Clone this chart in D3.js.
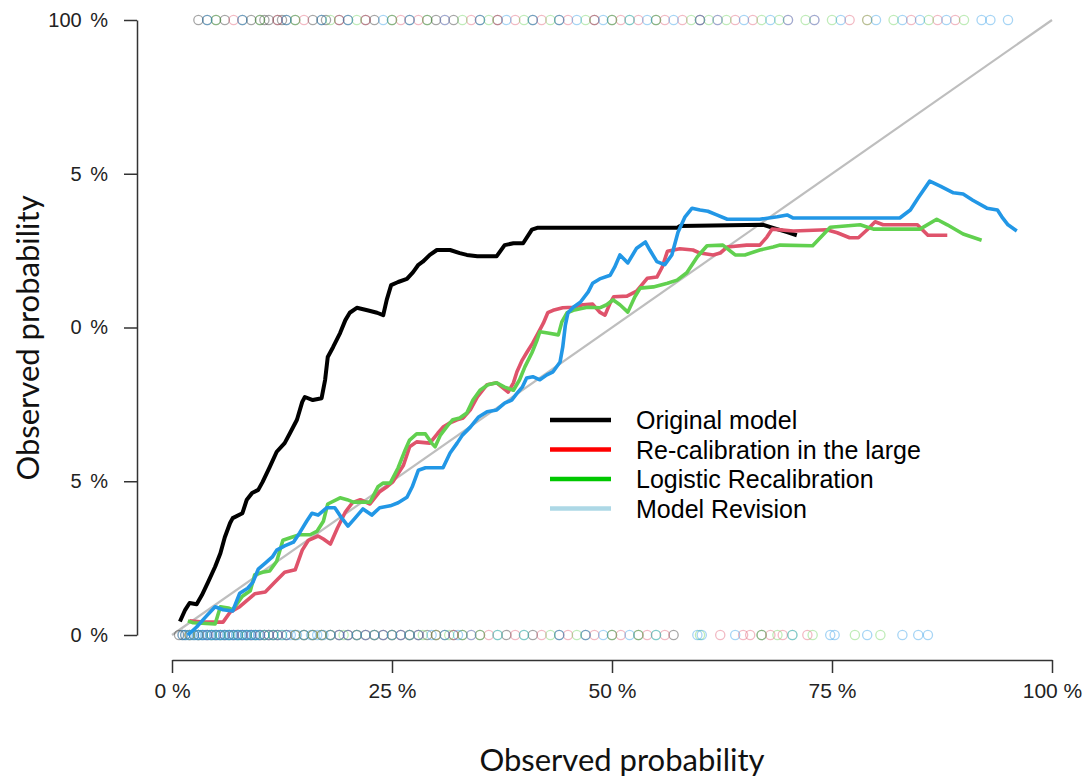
<!DOCTYPE html>
<html>
<head>
<meta charset="utf-8">
<script src="https://cdn.jsdelivr.net/npm/d3@7"></script>
<style>
  body { margin: 0; background: #fff; }
  text { font-family: "Liberation Sans", Arial, sans-serif; }
  .title { font-family: Lato, "Open Sans", sans-serif; }
</style>
</head>
<body>
<div id="chart"></div>
<script>
// calibration curves [predicted, observed]
const originalModel = [
  [0.009,0.022],[0.015,0.041],[0.020,0.052],[0.028,0.050],[0.034,0.065],[0.041,0.086],[0.049,0.111],
  [0.055,0.133],[0.060,0.159],[0.066,0.182],[0.069,0.190],[0.080,0.198],[0.085,0.220],[0.091,0.231],
  [0.098,0.236],[0.103,0.249],[0.111,0.273],[0.119,0.298],[0.128,0.312],[0.134,0.328],[0.142,0.350],
  [0.148,0.379],[0.151,0.387],[0.160,0.382],[0.170,0.385],[0.174,0.415],[0.177,0.452],[0.183,0.468],
  [0.191,0.491],[0.197,0.512],[0.202,0.524],[0.210,0.532],[0.222,0.528],[0.233,0.524],[0.240,0.520],
  [0.244,0.545],[0.249,0.569],[0.257,0.574],[0.267,0.579],[0.274,0.590],[0.280,0.602],[0.285,0.607],
  [0.293,0.618],[0.301,0.626],[0.316,0.626],[0.327,0.621],[0.335,0.618],[0.347,0.616],[0.369,0.616],
  [0.378,0.634],[0.388,0.637],[0.399,0.637],[0.409,0.659],[0.415,0.662],[0.574,0.662],[0.577,0.665],
  [0.672,0.667],[0.683,0.662],[0.699,0.655],[0.710,0.650]
]
const recalLarge = [
  [0.020,0.023],[0.035,0.021],[0.058,0.021],[0.066,0.037],[0.077,0.046],[0.086,0.057],[0.094,0.067],
  [0.106,0.070],[0.117,0.086],[0.128,0.102],[0.140,0.106],[0.148,0.138],[0.155,0.154],[0.166,0.161],
  [0.172,0.156],[0.180,0.148],[0.188,0.174],[0.197,0.200],[0.205,0.215],[0.214,0.220],[0.225,0.213],
  [0.236,0.233],[0.245,0.242],[0.251,0.249],[0.263,0.276],[0.270,0.306],[0.278,0.314],[0.293,0.312],
  [0.302,0.328],[0.308,0.338],[0.316,0.345],[0.324,0.350],[0.331,0.353],[0.339,0.366],[0.347,0.387],
  [0.358,0.407],[0.369,0.410],[0.376,0.402],[0.382,0.395],[0.388,0.410],[0.392,0.428],[0.398,0.447],
  [0.403,0.459],[0.410,0.475],[0.416,0.491],[0.422,0.507],[0.427,0.524],[0.433,0.528],[0.444,0.532],
  [0.456,0.533],[0.467,0.537],[0.478,0.538],[0.486,0.525],[0.492,0.520],[0.498,0.540],[0.502,0.550],
  [0.517,0.551],[0.528,0.559],[0.540,0.580],[0.551,0.582],[0.557,0.598],[0.563,0.624],[0.577,0.628],
  [0.592,0.626],[0.600,0.621],[0.615,0.618],[0.623,0.621],[0.631,0.631],[0.653,0.634],[0.668,0.634],
  [0.676,0.647],[0.682,0.660],[0.706,0.657],[0.744,0.659],[0.756,0.654],[0.770,0.646],[0.780,0.646],
  [0.790,0.659],[0.799,0.672],[0.808,0.667],[0.847,0.667],[0.859,0.650],[0.881,0.650]
]
const logisticRecal = [
  [0.018,0.023],[0.024,0.020],[0.049,0.018],[0.055,0.046],[0.064,0.044],[0.069,0.041],[0.080,0.063],
  [0.089,0.072],[0.094,0.098],[0.103,0.102],[0.111,0.104],[0.119,0.120],[0.126,0.154],[0.136,0.159],
  [0.145,0.163],[0.157,0.163],[0.165,0.169],[0.172,0.185],[0.177,0.213],[0.191,0.223],[0.199,0.220],
  [0.206,0.216],[0.225,0.216],[0.234,0.241],[0.240,0.247],[0.248,0.247],[0.257,0.272],[0.265,0.301],
  [0.270,0.317],[0.278,0.327],[0.288,0.327],[0.295,0.312],[0.299,0.306],[0.305,0.325],[0.313,0.340],
  [0.319,0.350],[0.327,0.353],[0.335,0.361],[0.342,0.382],[0.350,0.398],[0.359,0.407],[0.369,0.410],
  [0.378,0.403],[0.388,0.398],[0.395,0.415],[0.401,0.436],[0.409,0.459],[0.415,0.480],[0.418,0.493],
  [0.427,0.491],[0.439,0.488],[0.443,0.509],[0.449,0.524],[0.456,0.528],[0.472,0.533],[0.486,0.532],
  [0.494,0.537],[0.501,0.545],[0.509,0.537],[0.518,0.525],[0.526,0.550],[0.532,0.564],[0.547,0.566],
  [0.563,0.572],[0.574,0.577],[0.585,0.589],[0.597,0.615],[0.608,0.633],[0.626,0.634],[0.640,0.618],
  [0.651,0.618],[0.668,0.626],[0.683,0.631],[0.691,0.634],[0.728,0.633],[0.748,0.663],[0.782,0.667],
  [0.797,0.660],[0.850,0.660],[0.869,0.676],[0.881,0.667],[0.899,0.652],[0.920,0.642]
]
const modelRevision = [
  [0.018,0.000],[0.028,0.013],[0.038,0.029],[0.049,0.046],[0.058,0.041],[0.069,0.039],[0.077,0.068],
  [0.086,0.076],[0.092,0.086],[0.098,0.107],[0.106,0.117],[0.114,0.127],[0.119,0.138],[0.128,0.145],
  [0.138,0.151],[0.145,0.166],[0.153,0.185],[0.159,0.198],[0.166,0.195],[0.176,0.207],[0.185,0.207],
  [0.193,0.190],[0.200,0.177],[0.208,0.190],[0.217,0.205],[0.227,0.195],[0.236,0.207],[0.248,0.210],
  [0.257,0.215],[0.267,0.224],[0.273,0.241],[0.280,0.268],[0.288,0.272],[0.308,0.272],[0.316,0.296],
  [0.324,0.312],[0.330,0.325],[0.339,0.338],[0.348,0.354],[0.358,0.363],[0.369,0.366],[0.378,0.377],
  [0.386,0.382],[0.392,0.393],[0.398,0.403],[0.403,0.418],[0.410,0.420],[0.418,0.415],[0.426,0.423],
  [0.433,0.428],[0.441,0.444],[0.444,0.468],[0.447,0.504],[0.450,0.524],[0.456,0.533],[0.464,0.541],
  [0.473,0.558],[0.478,0.572],[0.486,0.579],[0.498,0.585],[0.503,0.598],[0.509,0.618],[0.518,0.605],
  [0.528,0.629],[0.538,0.639],[0.543,0.626],[0.551,0.607],[0.560,0.602],[0.568,0.618],[0.575,0.655],
  [0.583,0.680],[0.591,0.694],[0.600,0.691],[0.609,0.689],[0.619,0.683],[0.631,0.676],[0.668,0.676],
  [0.688,0.680],[0.699,0.683],[0.706,0.678],[0.827,0.678],[0.839,0.691],[0.848,0.711],[0.861,0.738],
  [0.873,0.730],[0.888,0.719],[0.899,0.717],[0.910,0.707],[0.926,0.694],[0.938,0.691],[0.943,0.680],
  [0.950,0.667],[0.960,0.657]
]

// rug: predicted probabilities of events (top) and non-events (bottom)
const eventsOriginal = [0.03,0.04,0.05,0.06,0.08,0.09,0.10,0.105,0.11,0.12,0.125,0.13,0.14,0.16,0.17,0.175,0.19,0.20,0.22,0.23,0.25,0.27,0.29,0.30,0.32,0.35,0.37,0.41,0.44,0.48,0.50,0.55,0.60]
const eventsRecal = [0.07,0.12,0.15,0.19,0.22,0.26,0.28,0.31,0.34,0.37,0.39,0.42,0.45,0.48,0.51,0.53,0.56,0.58,0.60,0.62,0.64,0.66,0.70,0.73,0.77,0.79,0.84,0.87,0.89]
const eventsLogistic = [0.05,0.10,0.14,0.18,0.21,0.25,0.29,0.33,0.36,0.40,0.43,0.47,0.50,0.52,0.55,0.59,0.61,0.63,0.67,0.69,0.72,0.75,0.79,0.82,0.86,0.90]
const eventsRevision = [0.04,0.08,0.13,0.17,0.20,0.24,0.27,0.31,0.35,0.38,0.41,0.44,0.46,0.49,0.52,0.54,0.57,0.60,0.62,0.65,0.68,0.70,0.73,0.76,0.80,0.83,0.85,0.88,0.92,0.93,0.95]
const nonEventsOriginal = [0.008,0.012,0.015,0.020,0.025,0.030,0.035,0.040,0.045,0.050,0.055,0.060,0.065,0.070,0.075,0.080,0.085,0.090,0.095,0.100,0.105,0.110,0.115,0.120,0.130,0.140,0.150,0.160,0.170,0.180,0.190,0.200,0.210,0.220,0.230,0.240,0.250,0.260,0.270,0.280,0.290,0.300,0.310,0.320,0.330,0.350,0.380,0.410,0.440,0.470,0.500,0.530,0.570,0.670]
const nonEventsRecal = [0.02,0.03,0.04,0.05,0.06,0.07,0.08,0.09,0.10,0.11,0.12,0.13,0.14,0.15,0.16,0.17,0.18,0.19,0.20,0.21,0.22,0.23,0.24,0.25,0.26,0.27,0.28,0.30,0.32,0.34,0.36,0.39,0.42,0.45,0.48,0.51,0.54,0.56,0.623,0.649,0.657,0.680,0.694,0.722]
const nonEventsLogistic = [0.020,0.030,0.045,0.055,0.065,0.075,0.085,0.095,0.105,0.115,0.125,0.140,0.150,0.160,0.170,0.180,0.195,0.210,0.230,0.250,0.270,0.285,0.300,0.315,0.330,0.350,0.370,0.400,0.430,0.460,0.500,0.530,0.550,0.600,0.670,0.688,0.705,0.728,0.776,0.805]
const nonEventsRevision = [0.012,0.015,0.018,0.022,0.025,0.028,0.030,0.033,0.035,0.038,0.040,0.043,0.045,0.048,0.050,0.053,0.055,0.058,0.060,0.063,0.065,0.068,0.070,0.073,0.075,0.078,0.080,0.083,0.085,0.088,0.090,0.093,0.095,0.098,0.100,0.105,0.110,0.115,0.120,0.125,0.130,0.135,0.142,0.150,0.158,0.165,0.172,0.180,0.190,0.200,0.210,0.220,0.230,0.240,0.250,0.260,0.270,0.280,0.295,0.310,0.325,0.340,0.370,0.400,0.440,0.470,0.490,0.520,0.550,0.597,0.602,0.640,0.705,0.748,0.753,0.790,0.830,0.848,0.859]

const tickValues = [0, 0.25, 0.5, 0.75, 1]
const xTickLabels = ['0 %', '25 %', '50 %', '75 %', '100 %']
const yTickLabels = ['0 %', '5 %', '0 %', '5 %', '100 %']

const legendLabels = ['Original model', 'Re-calibration in the large', 'Logistic Recalibration', 'Model Revision']
const legendColors = ['#000000', '#ff0000', '#00c800', '#add8e6']
const lineColors = ['#000000', '#df536b', '#61d04f', '#2297e6']

const svgWidth = 1085
const svgHeight = 778

const svg = d3.select('#chart')
    .append('svg')
    .attr('width', svgWidth)
    .attr('height', svgHeight)
    .style('background', '#fff')

////////////////////////////////////
//////////////scales////////////////
////////////////////////////////////
const xScale = d3.scaleLinear().domain([0, 1]).range([172, 1052])
const yScale = d3.scaleLinear().domain([0, 1]).range([635, 20])

////////////////////////////////////
///////////// axis /////////////////
////////////////////////////////////
const xAxis = svg.append('g')
    .attr('transform', 'translate(0,660)')
    .call(d3.axisBottom(xScale)
        .tickValues(tickValues)
        .tickFormat((d, i) => xTickLabels[i])
        .tickSize(13)
        .tickSizeOuter(0)
        .tickPadding(10))
xAxis.selectAll('text')
    .style('font-size', '21px')
    .attr('fill', '#222')

const yAxis = svg.append('g')
    .attr('transform', 'translate(137,0)')
    .call(d3.axisLeft(yScale)
        .tickValues(tickValues)
        .tickFormat((d, i) => yTickLabels[i])
        .tickSize(13)
        .tickSizeOuter(0)
        .tickPadding(16))
yAxis.selectAll('text')
    .style('font-size', '20px')
    .style('word-spacing', '3px')
    .attr('fill', '#222')

svg.selectAll('.domain, .tick line').attr('stroke', '#333').attr('stroke-width', 1.5)

svg.append('text')
    .attr('class', 'title')
    .text('Observed probability')
    .attr('x', 622)
    .attr('y', 771)
    .attr('text-anchor', 'middle')
    .style('font-size', '31px')
    .attr('fill', '#111')

svg.append('text')
    .attr('class', 'title')
    .text('Observed probability')
    .attr('text-anchor', 'middle')
    .style('font-size', '31px')
    .attr('fill', '#111')
    .attr('transform', 'translate(39,338) rotate(-90)')

////////////////////////////////////
/////////// ideal line /////////////
////////////////////////////////////
svg.append('line')
    .attr('x1', xScale(0)).attr('y1', yScale(0))
    .attr('x2', xScale(1)).attr('y2', yScale(1))
    .attr('stroke', '#bebebe')
    .attr('stroke-width', 2.2)

////////////////////////////////////
/////////////// rug ////////////////
////////////////////////////////////
const rugSets = [
    { vals: eventsOriginal, y: 1, c: 0 },
    { vals: eventsRecal, y: 1, c: 1 },
    { vals: eventsLogistic, y: 1, c: 2 },
    { vals: eventsRevision, y: 1, c: 3 },
    { vals: nonEventsOriginal, y: 0, c: 0 },
    { vals: nonEventsRecal, y: 0, c: 1 },
    { vals: nonEventsLogistic, y: 0, c: 2 },
    { vals: nonEventsRevision, y: 0, c: 3 }
]
rugSets.forEach(s => {
    svg.append('g')
        .selectAll('circle')
        .data(s.vals)
        .join('circle')
        .attr('cx', d => xScale(d))
        .attr('cy', yScale(s.y))
        .attr('r', 4.6)
        .attr('fill', 'none')
        .attr('stroke', lineColors[s.c])
        .attr('stroke-opacity', s.c == 0 ? 0.35 : 0.4)
        .attr('stroke-width', 1.3)
})

////////////////////////////////////
/////////// curves /////////////////
////////////////////////////////////
const line = d3.line()
    .x(d => xScale(d[0]))
    .y(d => yScale(d[1]))

const curves = [originalModel, recalLarge, logisticRecal, modelRevision]

svg.append('g')
    .selectAll('path')
    .data(curves)
    .join('path')
    .attr('d', line)
    .attr('fill', 'none')
    .attr('stroke', (d, i) => lineColors[i])
    .attr('stroke-width', (d, i) => i == 0 ? 4 : 3.6)
    .attr('stroke-linejoin', 'round')

////////////////////////////////////
/////////// legend /////////////////
////////////////////////////////////
const legend = svg.append('g')
    .selectAll('g')
    .data(legendLabels)
    .join('g')
    .attr('transform', (d, i) => `translate(550,${420 + i * 29.5})`)

legend.append('line')
    .attr('x1', 0).attr('x2', 61)
    .attr('stroke', (d, i) => legendColors[i])
    .attr('stroke-width', 4.5)

legend.append('text')
    .text(d => d)
    .attr('x', 86)
    .attr('dy', '0.36em')
    .style('font-size', '25px')
    .attr('fill', '#000')
</script>
</body>
</html>
